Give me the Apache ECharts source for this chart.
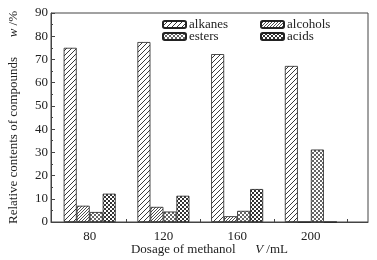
<!DOCTYPE html>
<html>
<head>
<meta charset="utf-8">
<script src="https://cdn.jsdelivr.net/npm/echarts@6/dist/echarts.min.js"></script>
<style>
  html, body { margin: 0; padding: 0; background: #fff; }
  #chart { width: 377px; height: 260px; }
</style>
</head>
<body>
<div id="chart"></div>
<script>
  // dosage of methanol (mL)
  var dosages = [80, 120, 160, 200];
  var alkanes = [75.0, 77.5, 72.3, 67.2];
  var alcohols = [7.0, 6.5, 2.5, 0];
  var esters = [4.3, 4.5, 4.8, 31.2];
  var acids = [12.2, 11.3, 14.2, 0];
  var yTicks = [0, 10, 20, 30, 40, 50, 60, 70, 80, 90];
  var xTickMarks = [100, 140, 180, 220];

  // little hatch patterns, drawn on canvas
  function hatch(step, width) {
    var c = document.createElement('canvas');
    c.width = step; c.height = step;
    var g = c.getContext('2d');
    g.fillStyle = '#fff';
    g.fillRect(0, 0, step, step);
    g.strokeStyle = '#222';
    g.lineWidth = width;
    g.beginPath();
    g.moveTo(-1, step + 1); g.lineTo(step + 1, -1);
    g.moveTo(-1, 1); g.lineTo(1, -1);
    g.moveTo(step - 1, step + 1); g.lineTo(step + 1, step - 1);
    g.stroke();
    return c;
  }
  function checker(step, dark) {
    var c = document.createElement('canvas');
    c.width = step; c.height = step;
    var g = c.getContext('2d');
    g.fillStyle = '#fff';
    g.fillRect(0, 0, step, step);
    g.fillStyle = dark;
    var h = step / 2;
    g.fillRect(0, 0, h, h);
    g.fillRect(h, h, h, h);
    return c;
  }

  var pats = {
    alkanes: hatch(5, 0.9),
    alcohols: hatch(3, 0.8),
    esters: checker(4, '#666'),
    acids: checker(4, '#333')
  };

  function pairs(vals) {
    return dosages.map(function (d, i) { return [d, vals[i]]; });
  }

  function makeSeries(name, vals) {
    return {
      name: name,
      type: 'bar',
      data: pairs(vals),
      barWidth: 13,
      barGap: '0%',
      itemStyle: {
        color: { image: pats[name], repeat: 'repeat' },
        borderColor: '#222',
        borderWidth: 0.8
      }
    };
  }

  var txt = { fontFamily: 'Liberation Serif', fontSize: 13, color: '#222' };

  function oneLegend(name, left, top) {
    return {
      data: [name],
      left: left,
      top: top,
      itemWidth: 23,
      itemHeight: 7,
      itemGap: 0,
      padding: 0,
      selectedMode: false,
      textStyle: { fontFamily: 'Liberation Serif', fontSize: 13, color: '#222', padding: [0, 0, 0, -2] }
    };
  }

  var myChart = echarts.init(document.getElementById('chart'));
  myChart.setOption({
    animation: false,
    grid: {
      left: 51, right: 9, top: 13, bottom: 38,
      containLabel: false,
      outerBoundsMode: 'none',
      show: true, borderColor: '#444', borderWidth: 1
    },
    legend: [
      oneLegend('alkanes', 162, 18),
      oneLegend('alcohols', 260, 18),
      oneLegend('esters', 162, 30),
      oneLegend('acids', 260, 30)
    ],
    xAxis: {
      type: 'value',
      min: 59,
      max: 231,
      splitLine: { show: false },
      axisLine: { lineStyle: { color: '#444' } },
      axisTick: { inside: true, length: 3, customValues: xTickMarks, lineStyle: { color: '#444' } },
      axisLabel: Object.assign({ customValues: dosages, margin: 8 }, txt),
      name: 'Dosage of methanol      {i|V} /mL',
      nameLocation: 'middle',
      nameMoveOverlap: false,
      nameGap: 21,
      nameTextStyle: Object.assign({
        rich: { i: { fontFamily: 'Liberation Serif', fontSize: 13, fontStyle: 'italic', color: '#222' } }
      }, txt)
    },
    yAxis: {
      type: 'value',
      min: 0,
      max: 90,
      interval: 10,
      splitLine: { show: false },
      axisLine: { show: true, lineStyle: { color: '#444' } },
      axisTick: { inside: true, length: 4, lineStyle: { color: '#444' } },
      minorTick: { show: true, splitNumber: 2, length: 2, lineStyle: { color: '#444' } },
      axisLabel: Object.assign({ customValues: yTicks, margin: 3 }, txt),
      name: 'Relative contents of compounds      {i|w} /%',
      nameLocation: 'middle',
      nameMoveOverlap: false,
      nameGap: 31,
      nameTextStyle: Object.assign({
        rich: { i: { fontFamily: 'Liberation Serif', fontSize: 13, fontStyle: 'italic', color: '#222' } }
      }, txt)
    },
    series: [
      makeSeries('alkanes', alkanes),
      makeSeries('alcohols', alcohols),
      makeSeries('esters', esters),
      makeSeries('acids', acids)
    ]
  });
  window.onresize = myChart.resize;
</script>
</body>
</html>
